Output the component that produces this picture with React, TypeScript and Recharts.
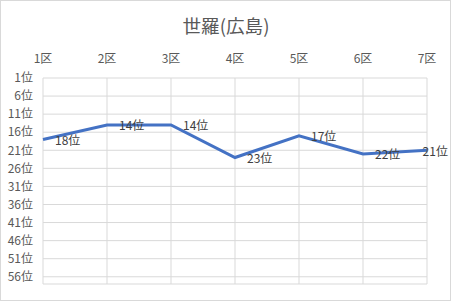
import { LineChart, Line, XAxis, YAxis, CartesianGrid } from "recharts";

const sections = ["1区", "2区", "3区", "4区", "5区", "6区", "7区"];
const ranks = [18, 14, 14, 23, 17, 22, 21];
const rankTicks = [1, 6, 11, 16, 21, 26, 31, 36, 41, 46, 51, 56];

const data = sections.map((s, i) => ({ name: s, rank: ranks[i] }));

const FONT = '"Noto Sans CJK JP", "Noto Sans", sans-serif';
const W = 452;
const H = 302;

function RankLabel(props: any) {
  const { x, y, value } = props;
  const txt = `${value}位`;
  const w = 12 + (txt.length - 1) * 6.2;
  const tx = Math.min(x + 12, W - 5 - w);
  return (
    <text x={tx} y={y} dominantBaseline="central" textAnchor="start"
      fontSize={12} fill="#404040" fontFamily={FONT}>
      {txt}
    </text>
  );
}

export default function App() {
  return (
    <div style={{ position: "relative", width: W, height: H, background: "#fff", fontFamily: FONT }}>
      <style>{`body{margin:0}`}</style>
      <div style={{ position:"absolute", left:0, top:0, width:W-1, height:H-1, border:"1px solid #D9D9D9", boxSizing:"border-box" }} />
      <div style={{ position:"absolute", left:0, top:12, width:W, textAlign:"center", fontSize:18.6, color:"#595959", lineHeight:"26px" }}>
        世羅(広島)
      </div>
      <div style={{ position: "absolute", left: 0, top: 0 }}>
        <LineChart width={W} height={H} data={data} margin={{ top: 58, right: 25, left: 0, bottom: 18 }}>
          <CartesianGrid stroke="#D9D9D9" strokeWidth={1} />
          <XAxis dataKey="name" orientation="top" height={20} axisLine={false} tickLine={false}
            tickMargin={9} tick={{ fontSize: 12, fill: "#595959", fontFamily: FONT }} interval={0} />
          <YAxis type="number" reversed domain={[1, 58]} ticks={rankTicks} width={43}
            axisLine={false} tickLine={false} tickMargin={4} tickFormatter={(v) => `${v}位`}
            tick={{ fontSize: 12, fill: "#595959", fontFamily: FONT }} interval={0} />
          <Line type="linear" dataKey="rank" stroke="#4472C4" strokeWidth={3} dot={false}
            isAnimationActive={false} label={RankLabel} />
        </LineChart>
      </div>
    </div>
  );
}
